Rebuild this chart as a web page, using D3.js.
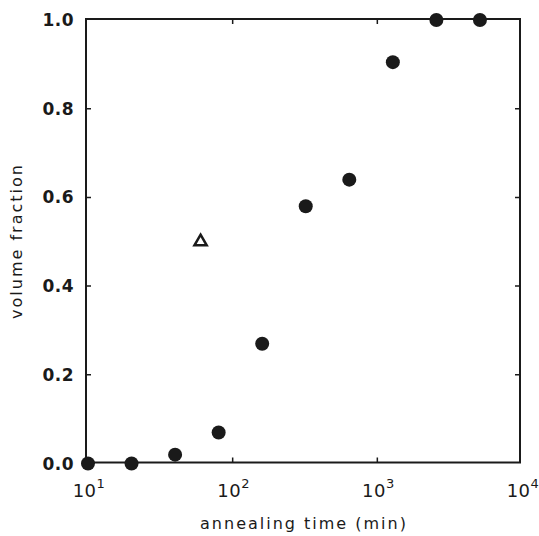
<!DOCTYPE html>
<html>
<head>
<meta charset="utf-8">
<script src="https://cdn.jsdelivr.net/npm/d3@7"></script>
<style>
  body { margin: 0; background: #fff; }
  svg text { font-family: "DejaVu Sans", sans-serif; fill: #1a1a1a; }
</style>
</head>
<body>
<svg id="chart" width="539" height="536"></svg>
<script>
// annealing time (min) and measured volume fraction
var times = [10, 20, 40, 80, 160, 320, 640, 1280, 2560, 5120];
var fractions = [0.0, 0.0, 0.02, 0.07, 0.27, 0.58, 0.64, 0.905, 1.0, 1.0];

// the single open triangle
var triTimes = [60];
var triFractions = [0.5];

var xTicks = [10, 100, 1000, 10000];
var xTickExp = ["1", "2", "3", "4"];
var yTicks = [0, 0.2, 0.4, 0.6, 0.8, 1.0];

var svg = d3.select("#chart");
// plot box, in pixels (don't call these "top" - clashes with window.top)
var plotLeft = 88, plotRight = 522, plotTop = 20, plotBottom = 463.5;
var ink = "#1a1a1a";

var x = d3.scaleLog().domain([10, 10000]).range([plotLeft, plotRight]);
var y = d3.scaleLinear().domain([0, 1]).range([plotBottom, plotTop]);

// Frame.
svg.append("rect")
    .attr("x", plotLeft - 2).attr("y", plotTop - 1)
    .attr("width", plotRight - plotLeft).attr("height", plotBottom - plotTop)
    .attr("fill", "none").attr("stroke", ink).attr("stroke-width", 2);

// Inward ticks on left/right.
svg.selectAll(".ytick").data(yTicks.slice(1, -1)).enter().append("path")
    .attr("d", function(d) {
        var yy = y(d);
        return "M" + (plotLeft - 2) + "," + yy + "h5M" + (plotRight - 2) + "," + yy + "h-5";
    })
    .attr("stroke", ink).attr("stroke-width", 1.5);

svg.selectAll(".xtick").data(xTicks.slice(1, -1)).enter().append("path")
    .attr("d", function(d) {
        var xx = x(d);
        return "M" + xx + "," + (plotBottom - 1) + "v-5M" + xx + "," + (plotTop - 1) + "v5";
    })
    .attr("stroke", ink).attr("stroke-width", 1.5);

// Y tick labels.
svg.selectAll(".ylab").data(yTicks).enter().append("text")
    .attr("x", 74).attr("y", function(d) { return y(d) + 6; })
    .attr("text-anchor", "end")
    .attr("font-size", 17).attr("font-weight", "bold").attr("letter-spacing", 0.5)
    .text(function(d) { return d.toFixed(1); });

// X tick labels, 10 with superscript exponent.
var xl = svg.selectAll(".xlab").data(xTicks).enter().append("text")
    .attr("x", function(d) { return x(d) + 1; }).attr("y", 497)
    .attr("text-anchor", "middle")
    .attr("font-size", 18).attr("letter-spacing", 0.5);
xl.append("tspan").text("10");
xl.append("tspan").attr("dy", -9).attr("font-size", 13)
    .text(function(d, i) { return xTickExp[i]; });

// Axis titles.
svg.append("text")
    .attr("x", 304).attr("y", 529)
    .attr("text-anchor", "middle")
    .attr("font-size", 16).attr("letter-spacing", 2)
    .text("annealing time (min)");

svg.append("text")
    .attr("transform", "translate(22,241) rotate(-90)")
    .attr("text-anchor", "middle")
    .attr("font-size", 16).attr("letter-spacing", 2)
    .text("volume fraction");

// Filled circles.
svg.selectAll(".pt").data(times).enter().append("circle")
    .attr("cx", function(d) { return x(d); })
    .attr("cy", function(d, i) { return y(fractions[i]); })
    .attr("r", 7)
    .attr("fill", ink);

// Open triangle.
var tri = d3.symbol().type(d3.symbolTriangle).size(65);
svg.selectAll(".tri").data(triTimes).enter().append("path")
    .attr("d", tri)
    .attr("transform", function(d, i) {
        return "translate(" + x(d) + "," + y(triFractions[i]) + ")";
    })
    .attr("fill", "none").attr("stroke", ink).attr("stroke-width", 2.5);
</script>
</body>
</html>
